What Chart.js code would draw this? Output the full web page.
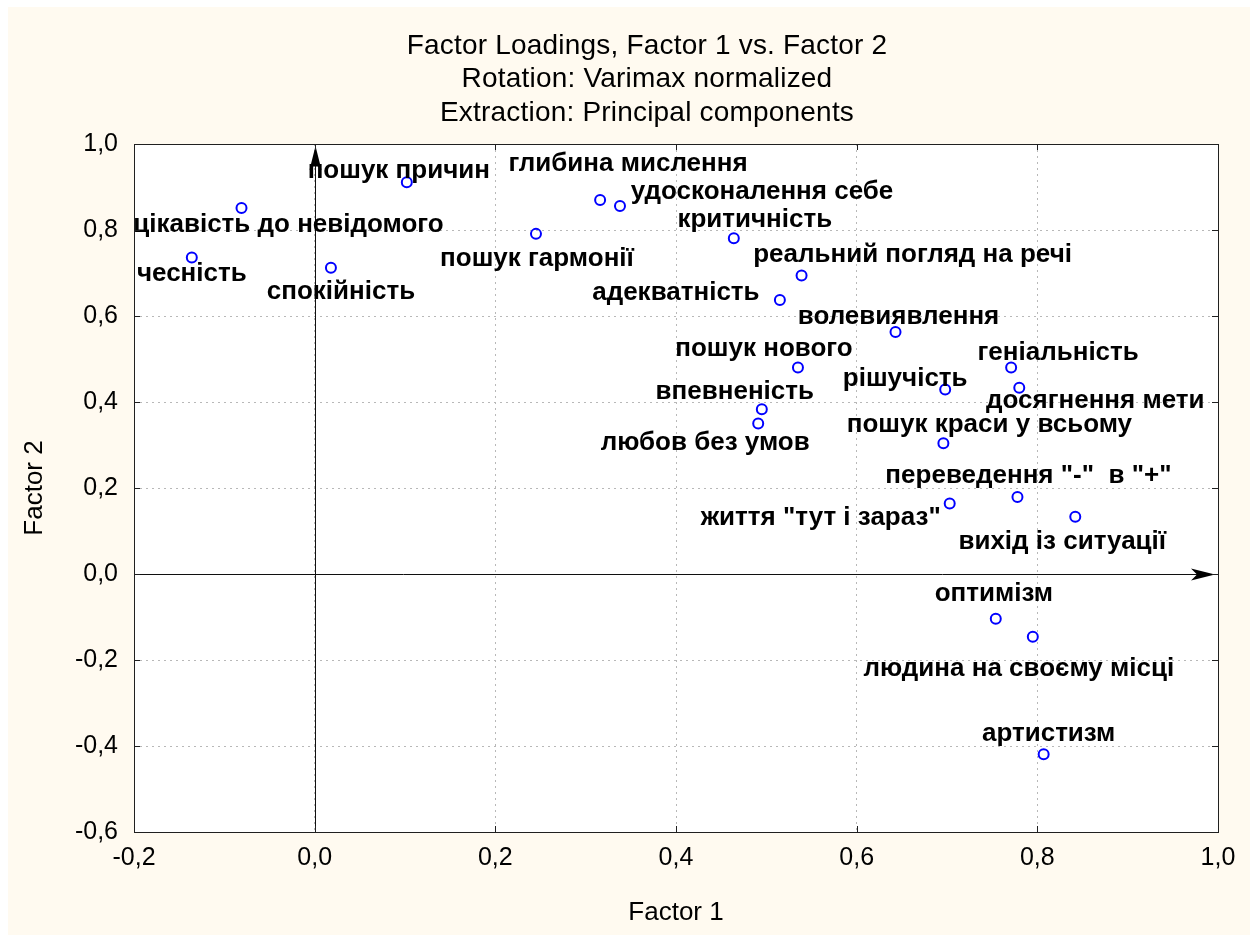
<!DOCTYPE html>
<html>
<head>
<meta charset="utf-8">
<script src="https://cdn.jsdelivr.net/npm/chart.js@4.4.1/dist/chart.umd.min.js"></script>
<style>
  html, body { margin: 0; padding: 0; background: #ffffff; }
  canvas { display: block; }
</style>
</head>
<body>
<canvas id="loadingsChart" width="1250" height="935"></canvas>
<script>
// factor loadings
const itemNames = [
	'цікавість до невідомого', 'чесність', 'пошук причин', 'спокійність',
	'пошук гармонії', 'глибина мислення', 'удосконалення себе', 'критичність',
	'реальний погляд на речі', 'адекватність', 'волевиявлення', 'пошук нового',
	'впевненість', 'любов без умов', 'геніальність', 'рішучість',
	'досягнення мети', 'пошук краси у всьому', 'переведення "-"  в "+"', 'життя "тут і зараз"',
	'вихід із ситуації', 'оптимізм', 'людина на своєму місці', 'артистизм'
];
const factor1 = [
	-0.081, -0.136, 0.102, 0.018,
	0.245, 0.316, 0.338, 0.464,
	0.539, 0.515, 0.643, 0.535,
	0.495, 0.491, 0.771, 0.698,
	0.780, 0.696, 0.778, 0.703,
	0.842, 0.754, 0.795, 0.807
];
const factor2 = [
	0.851, 0.736, 0.911, 0.712,
	0.791, 0.870, 0.856, 0.781,
	0.694, 0.637, 0.563, 0.480,
	0.383, 0.350, 0.480, 0.429,
	0.433, 0.304, 0.179, 0.164,
	0.133, -0.104, -0.146, -0.419
];
const titleLines = [
	'Factor Loadings, Factor 1 vs. Factor 2',
	'Rotation: Varimax normalized',
	'Extraction: Principal components'
];
const xTitle = 'Factor 1';
const yTitle = 'Factor 2';

// where each label sits relative to its point (px)
const labelOffsets = [
	[47, 17], [0, 16], [-8, -11], [10, 24],
	[1, 25], [28, -36], [142, -14], [21, -18],
	[111, -21], [-104, -7], [3, -15], [-34, -19],
	[-27, -17], [-53, 19], [47, -15], [-40, -11],
	[76, 13], [46, -18], [11, -21], [-129, 14],
	[-13, 25], [-2, -25], [-14, 32], [5, -20]
];

const FONT = '"Liberation Sans", Arial, sans-serif';

function fmtTick(v) {
	if (Math.abs(v) < 1e-9) v = 0;
	return v.toFixed(1).replace('.', ',');
}

// cream panel + white plot area
const backgroundPlugin = {
	id: 'panelBg',
	beforeDraw(chart) {
		const ctx = chart.ctx;
		const a = chart.chartArea;
		ctx.save();
		ctx.fillStyle = '#ffffff';
		ctx.fillRect(0, 0, chart.width, chart.height);
		ctx.fillStyle = '#fffaf0';
		ctx.fillRect(8, 7, chart.width - 8, chart.height - 7);
		ctx.fillStyle = '#ffffff';
		ctx.fillRect(a.left, a.top, a.right - a.left, a.bottom - a.top);
		ctx.restore();
	}
};

// three-line heading, centred a bit right of the canvas middle like the original
const headingPlugin = {
	id: 'heading',
	afterDraw(chart) {
		const ctx = chart.ctx;
		ctx.save();
		ctx.font = '28px ' + FONT;
		ctx.letterSpacing = '0.2px';
		ctx.fillStyle = '#000000';
		ctx.textAlign = 'center';
		ctx.textBaseline = 'middle';
		titleLines.forEach((line, i) => {
			ctx.fillText(line, 647, 46 + i * 33.5);
		});
		ctx.restore();
	}
};

function arrowHead(ctx, tipX, tipY, dirX, dirY) {
	const len = 24, half = 6, notch = 18;
	const px = -dirY, py = dirX;
	ctx.beginPath();
	ctx.moveTo(tipX, tipY);
	ctx.lineTo(tipX - dirX * len + px * half, tipY - dirY * len + py * half);
	ctx.lineTo(tipX - dirX * notch, tipY - dirY * notch);
	ctx.lineTo(tipX - dirX * len - px * half, tipY - dirY * len - py * half);
	ctx.closePath();
	ctx.fill();
}

// zero axes with arrows
const axesPlugin = {
	id: 'zeroAxes',
	beforeDatasetsDraw(chart) {
		const ctx = chart.ctx;
		const x = chart.scales.x, y = chart.scales.y;
		const x0 = Math.round(x.getPixelForValue(0)) + 0.5;
		const y0 = Math.round(y.getPixelForValue(0)) + 0.5;
		ctx.save();
		ctx.strokeStyle = '#101010';
		ctx.fillStyle = '#000000';
		ctx.lineWidth = 1;
		ctx.beginPath();
		ctx.moveTo(x0, y.bottom);
		ctx.lineTo(x0, y.top + 4);
		ctx.moveTo(x.left, y0);
		ctx.lineTo(x.right - 6, y0);
		ctx.stroke();
		arrowHead(ctx, x0, y.top + 2, 0, -1);
		arrowHead(ctx, x.right - 3, y0, 1, 0);
		ctx.restore();
	}
};

// frame with inward ticks
const framePlugin = {
	id: 'frame',
	afterDraw(chart) {
		const ctx = chart.ctx;
		const a = chart.chartArea;
		const xs = chart.scales.x, ys = chart.scales.y;
		const t = 6;
		ctx.save();
		ctx.strokeStyle = '#202020';
		ctx.lineWidth = 1;
		ctx.strokeRect(Math.round(a.left) + 0.5, Math.round(a.top) + 0.5,
			Math.round(a.right - a.left), Math.round(a.bottom - a.top));
		ctx.beginPath();
		xs.ticks.forEach(tk => {
			const px = Math.round(xs.getPixelForValue(tk.value)) + 0.5;
			ctx.moveTo(px, a.bottom); ctx.lineTo(px, a.bottom - t);
			ctx.moveTo(px, a.top); ctx.lineTo(px, a.top + t);
		});
		ys.ticks.forEach(tk => {
			const py = Math.round(ys.getPixelForValue(tk.value)) + 0.5;
			ctx.moveTo(a.left, py); ctx.lineTo(a.left + t, py);
			ctx.moveTo(a.right, py); ctx.lineTo(a.right - t, py);
		});
		ctx.stroke();
		ctx.restore();
	}
};

// text labels next to points
const labelPlugin = {
	id: 'pointLabels',
	afterDatasetsDraw(chart) {
		const ctx = chart.ctx;
		const meta = chart.getDatasetMeta(0);
		ctx.save();
		ctx.font = 'bold 26px ' + FONT;
		ctx.fillStyle = '#000000';
		ctx.textAlign = 'center';
		ctx.textBaseline = 'middle';
		meta.data.forEach((pt, i) => {
			const off = labelOffsets[i];
			ctx.fillText(itemNames[i], pt.x + off[0], pt.y + off[1]);
		});
		ctx.restore();
	}
};

const points = factor1.map((v, i) => ({ x: v, y: factor2[i] }));

new Chart(document.getElementById('loadingsChart').getContext('2d'), {
	type: 'scatter',
	data: {
		datasets: [{
			data: points,
			pointStyle: 'circle',
			pointRadius: 5,
			pointBorderWidth: 2,
			pointBorderColor: '#0000ff',
			pointBackgroundColor: 'rgba(255,255,255,0)'
		}]
	},
	options: {
		responsive: false,
		animation: false,
		devicePixelRatio: 1,
		layout: {
			padding: { left: 8, right: 32, top: 144, bottom: 0 }
		},
		plugins: {
			legend: { display: false },
			tooltip: { enabled: false },
			title: { display: false }
		},
		scales: {
			x: {
				type: 'linear',
				min: -0.2,
				max: 1.0,
				afterFit(scale) { scale.height = 103; },
				ticks: {
					stepSize: 0.2,
					padding: 11,
					color: '#000000',
					font: { family: FONT, size: 25 },
					callback: fmtTick,
					maxRotation: 0
				},
				grid: { color: '#b8b8b8', drawTicks: false, lineWidth: 1 },
				border: { display: false, dash: [2, 4] },
				title: {
					display: true,
					text: xTitle,
					color: '#000000',
					font: { family: FONT, size: 26 },
					padding: { top: 0, bottom: 7 }
				}
			},
			y: {
				type: 'linear',
				min: -0.6,
				max: 1.0,
				afterFit(scale) { scale.width = 126; },
				ticks: {
					stepSize: 0.2,
					padding: 16,
					color: '#000000',
					font: { family: FONT, size: 25 },
					callback: fmtTick
				},
				grid: { color: '#b8b8b8', drawTicks: false, lineWidth: 1 },
				border: { display: false, dash: [2, 4] },
				title: {
					display: true,
					text: yTitle,
					color: '#000000',
					font: { family: FONT, size: 26 },
					padding: { top: 11, bottom: 0 }
				}
			}
		}
	},
	plugins: [backgroundPlugin, axesPlugin, labelPlugin, framePlugin, headingPlugin]
});
</script>
</body>
</html>
